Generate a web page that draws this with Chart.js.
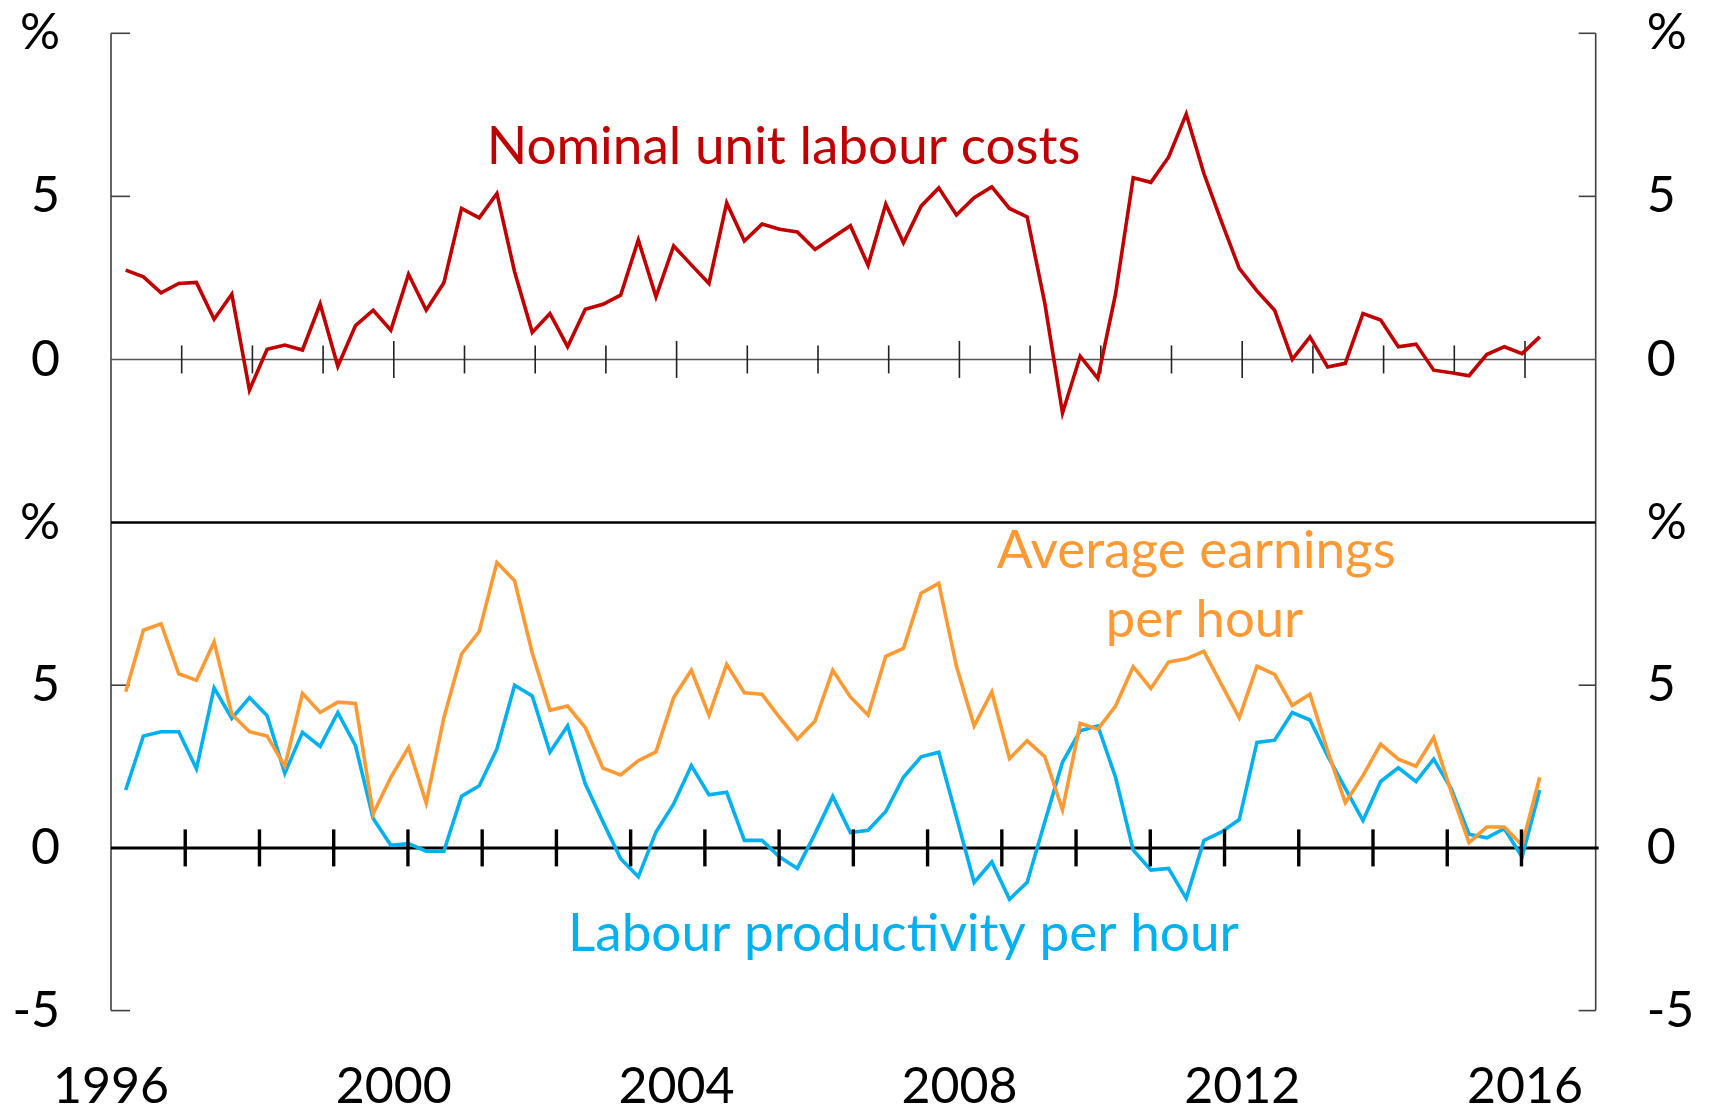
<!DOCTYPE html>
<html><head><meta charset="utf-8">
<script src="https://cdn.jsdelivr.net/npm/chart.js@4"></script>
<style>
html,body{margin:0;padding:0;background:#fff;width:1709px;height:1110px;overflow:hidden;font-family:Lato}
canvas{position:absolute;left:0}
#c1{top:0}
#c2{top:480px}
</style></head><body>
<canvas id="c1" width="1709" height="560" style="width:1709px;height:560px"></canvas>
<canvas id="c2" width="1709" height="630" style="width:1709px;height:630px"></canvas>
<script>
// ---- data ----
const quarters = [
 '1996-03','1996-06','1996-09','1996-12','1997-03','1997-06','1997-09','1997-12',
 '1998-03','1998-06','1998-09','1998-12','1999-03','1999-06','1999-09','1999-12',
 '2000-03','2000-06','2000-09','2000-12','2001-03','2001-06','2001-09','2001-12',
 '2002-03','2002-06','2002-09','2002-12','2003-03','2003-06','2003-09','2003-12',
 '2004-03','2004-06','2004-09','2004-12','2005-03','2005-06','2005-09','2005-12',
 '2006-03','2006-06','2006-09','2006-12','2007-03','2007-06','2007-09','2007-12',
 '2008-03','2008-06','2008-09','2008-12','2009-03','2009-06','2009-09','2009-12',
 '2010-03','2010-06','2010-09','2010-12','2011-03','2011-06','2011-09','2011-12',
 '2012-03','2012-06','2012-09','2012-12','2013-03','2013-06','2013-09','2013-12',
 '2014-03','2014-06','2014-09','2014-12','2015-03','2015-06','2015-09','2015-12',
 '2016-03'];
const nominalULC = [2.74,2.53,2.04,2.33,2.36,1.23,2.0,-0.94,0.31,0.44,
 0.29,1.70,-0.21,1.04,1.51,0.90,2.61,1.51,2.35,4.63,
 4.34,5.09,2.69,0.83,1.41,0.39,1.54,1.69,1.97,3.66,
 1.92,3.48,2.9,2.33,4.80,3.63,4.15,3.99,3.91,3.37,
 3.74,4.10,2.89,4.76,3.58,4.70,5.26,4.43,4.96,5.29,
 4.63,4.37,1.72,-1.64,0.10,-0.58,2.0,5.57,5.43,6.2,
 7.52,5.70,4.22,2.79,2.1,1.51,0,0.69,-0.23,-0.12,
 1.41,1.21,0.39,0.47,-0.33,-0.41,-0.50,0.15,0.39,0.18,0.69];
const avgEarnings = [4.80,6.69,6.89,5.35,5.15,6.33,4.11,3.57,3.44,2.51,
 4.75,4.16,4.48,4.44,1.05,2.17,3.09,1.38,4.0,5.96,
 6.65,8.77,8.21,5.99,4.23,4.36,3.70,2.45,2.24,2.68,
 2.95,4.62,5.46,4.08,5.64,4.77,4.72,4.0,3.34,3.90,
 5.46,4.64,4.08,5.89,6.13,7.83,8.13,5.58,3.75,4.79,
 2.75,3.29,2.80,1.17,3.83,3.65,4.36,5.57,4.90,5.71,
 5.81,6.04,5.02,4.0,5.58,5.33,4.38,4.72,2.98,1.39,
 2.22,3.19,2.73,2.51,3.39,1.71,0.16,0.64,0.64,0.08,2.17];
const labourProd = [1.78,3.44,3.57,3.57,2.43,4.92,3.98,4.62,4.06,2.29,
 3.55,3.12,4.16,3.14,0.90,0.08,0.13,-0.10,-0.10,1.59,
 1.91,3.04,5.0,4.67,2.94,3.75,1.97,0.80,-0.33,-0.89,
 0.49,1.35,2.53,1.63,1.71,0.23,0.23,-0.28,-0.63,0.44,
 1.58,0.47,0.54,1.12,2.17,2.80,2.94,0.95,-1.06,-0.43,
 -1.58,-1.06,0.8,2.63,3.60,3.75,2.17,-0.07,-0.68,-0.63,
 -1.55,0.23,0.49,0.87,3.24,3.31,4.16,3.93,2.83,1.83,
 0.84,2.04,2.46,2.04,2.73,1.81,0.42,0.31,0.59,-0.28,1.78];
const yearLabels = ['1996','2000','2004','2008','2012','2016'];
const topYearTicks = [1997,1998,1999,2000,2001,2002,2003,2004,2005,2006,2007,2008,2009,2010,2011,2012,2013,2014,2015,2016];
const topYLabels = {'10':'%','5':'5','0':'0','-5':''};
const bottomYLabels = {'10':'%','5':'5','0':'0','-5':'-5'};

// ---- helpers ----
const RED = '#C00000', ORANGE = '#FF9933', BLUE = '#00B0F0';
const FONT = 'Lato';
function qx(q){ const [y,m] = q.split('-').map(Number); return y + (m - 0.5)/12; }
function series(vals){ return vals.map((v,i)=>({x: qx(quarters[i]), y: v})); }

function fitText(ctx, text, targetW, color, x, baseline){
  ctx.save();
  ctx.font = '100px ' + FONT;
  const w = ctx.measureText(text).width;
  ctx.font = (100*targetW/w).toFixed(2) + 'px ' + FONT;
  ctx.fillStyle = color; ctx.textAlign = 'left'; ctx.textBaseline = 'alphabetic';
  ctx.fillText(text, x, baseline);
  ctx.restore();
}
function line(ctx, x1,y1,x2,y2,w,c){
  ctx.beginPath(); ctx.lineWidth = w; ctx.strokeStyle = c; ctx.lineCap = 'butt';
  ctx.moveTo(x1,y1); ctx.lineTo(x2,y2); ctx.stroke();
}

function yScale(pos, labels, width){
  return {
    type:'linear', position:pos, min:-5, max:10,
    grid:{display:false, drawTicks:false}, border:{display:false},
    ticks:{stepSize:5, padding:51, color:'#000', font:{family:FONT, size:50},
      callback:(v)=> labels[String(v)] ?? ''},
    afterFit:(s)=>{ s.width = width; s.paddingTop = 0; s.paddingBottom = 0; }
  };
}

const topDeco = {
  id:'topDeco',
  beforeDatasetsDraw(chart){
    const ctx = chart.ctx, a = chart.chartArea, y = chart.scales.y, x = chart.scales.x;
    ctx.save();
    const AX = '#404040';
    line(ctx, a.left, a.top, a.left, a.bottom, 1.6, AX);
    line(ctx, a.right, a.top, a.right, a.bottom, 1.6, AX);
    [10,5].forEach(v=>{
      const py = y.getPixelForValue(v);
      line(ctx, a.left, py, a.left+19, py, 1.6, AX);
      line(ctx, a.right-17, py, a.right, py, 1.6, AX);
    });
    const y0 = y.getPixelForValue(0);
    line(ctx, a.left, y0, a.right, y0, 1.6, '#555');
    topYearTicks.forEach(yr=>{
      const px = x.getPixelForValue(yr);
      const h = yr % 4 === 0 ? 18.5 : 14;
      line(ctx, px, y0-h, px, y0+h, 1.6, '#222');
    });
    ctx.restore();
  },
  afterDraw(chart){
    fitText(chart.ctx, 'Nominal unit labour costs', 594, RED, 486.7, 164);
  }
};

const bottomDeco = {
  id:'bottomDeco',
  beforeDatasetsDraw(chart){
    const ctx = chart.ctx, a = chart.chartArea, y = chart.scales.y;
    ctx.save();
    const AX = '#404040';
    line(ctx, a.left, a.top, a.left, a.bottom, 1.6, AX);
    line(ctx, a.right, a.top, a.right, a.bottom, 1.6, AX);
    [5,-5].forEach(v=>{
      const py = y.getPixelForValue(v);
      line(ctx, a.left, py, a.left+19, py, 1.6, AX);
      line(ctx, a.right-17, py, a.right, py, 1.6, AX);
    });
    line(ctx, a.left, a.top, a.right, a.top, 2.6, '#000');
    const y0 = y.getPixelForValue(0);
    line(ctx, a.left, y0, a.right+3, y0, 3, '#000');
    ctx.restore();
  },
  afterDatasetsDraw(chart){
    const ctx = chart.ctx, a = chart.chartArea, y = chart.scales.y;
    const y0 = y.getPixelForValue(0);
    ctx.save();
    for(let k=1;k<20;k++){
      const px = a.left + (a.right - a.left)*k/20;
      line(ctx, px, y0-18.5, px, y0+18.5, 3.4, '#000');
    }
    ctx.restore();
  },
  afterDraw(chart){
    const ctx = chart.ctx;
    fitText(ctx, 'Average earnings', 399, ORANGE, 996.7, 567.7-480);
    fitText(ctx, 'per hour', 197.6, ORANGE, 1105.7, 637.3-480);
    fitText(ctx, 'Labour productivity per hour', 671, BLUE, 568, 950.5-480);
  }
};

const common = {
  responsive:false, animation:false, devicePixelRatio:1,
  plugins:{legend:{display:false}, tooltip:{enabled:false}},
  elements:{point:{radius:0}, line:{tension:0, borderJoinStyle:'miter'}}
};

new Chart(document.getElementById('c1'), {
  type:'line',
  data:{datasets:[{data:series(nominalULC), borderColor:RED, borderWidth:3.6, fill:false}]},
  options:Object.assign({}, common, {
    layout:{padding:{top:33.3, bottom:37.5, left:0, right:0}},
    scales:{
      x:{type:'linear', min:1996, max:2017, display:false},
      y:yScale('left', topYLabels, 111),
      y2:yScale('right', topYLabels, 113.3)
    }
  }),
  plugins:[topDeco]
});

new Chart(document.getElementById('c2'), {
  type:'line',
  data:{datasets:[
    {data:series(avgEarnings), borderColor:ORANGE, borderWidth:3.6, fill:false},
    {data:series(labourProd), borderColor:BLUE, borderWidth:3.6, fill:false}
  ]},
  options:Object.assign({}, common, {
    layout:{padding:{top:42.5, bottom:0, left:0, right:0}},
    scales:{
      x:{type:'linear', min:1996, max:2017, position:'bottom',
        grid:{display:false, drawTicks:false}, border:{display:false},
        afterBuildTicks:(s)=>{ s.ticks = yearLabels.map(v=>({value:Number(v)})); },
        ticks:{autoSkip:false, maxRotation:0, padding:46, color:'#000', font:{family:FONT, size:50},
          callback:(v)=> String(v)},
        afterFit:(s)=>{ s.height = 99.4; s.paddingLeft = 0; s.paddingRight = 0; }
      },
      y:yScale('left', bottomYLabels, 111),
      y2:yScale('right', bottomYLabels, 113.3)
    }
  }),
  plugins:[bottomDeco]
});
</script>
</body></html>
